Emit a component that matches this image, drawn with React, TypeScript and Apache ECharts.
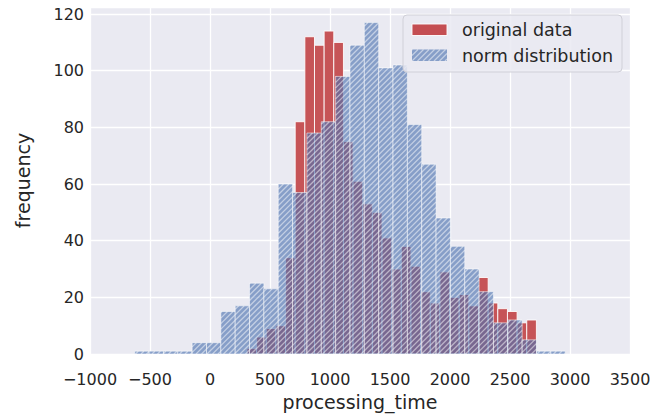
import React, { useEffect, useRef } from "react";
import * as echarts from "echarts";

// Histogram of the original data (30 equal bins over the range below)
const RED_RANGE = [308, 2720];
const RED_COUNTS = [2, 6, 9, 10, 34, 82, 112, 109, 114, 110, 75, 61, 53, 50, 41, 30, 38, 31, 22, 18, 29, 20, 21, 17, 27, 18, 16, 15, 11, 12];

// Histogram of the fitted normal sample (30 equal bins over the range below)
const BLUE_RANGE = [-627, 2960];
const BLUE_COUNTS = [1, 1, 1, 1, 4, 4, 15, 17, 25, 23, 60, 57, 78, 82, 98, 109, 117, 101, 102, 81, 67, 48, 38, 30, 22, 11, 12, 5, 1, 1];

const SERIES_NAMES = ["original data", "norm distribution"];
const X_TITLE = "processing_time";
const Y_TITLE = "frequency";

const FONT = "DejaVu Sans";
const RED = "#C44E52";
const BLUE = "#4C72B0";
const BG = "#EAEAF2";
const TEXT = "#262626";

function toBins(range: number[], counts: number[]) {
  const w = (range[1] - range[0]) / counts.length;
  return counts.map((c, i) => [range[0] + i * w, range[0] + (i + 1) * w, c]);
}

function hatchLines(x0: number, y0: number, x1: number, y1: number, step: number, style: any, z?: number) {
  const out: any[] = [];
  const cStart = Math.ceil((x0 + y0) / step) * step;
  for (let c = cStart; c <= x1 + y1; c += step) {
    const xa = Math.max(x0, c - y1);
    const xb = Math.min(x1, c - y0);
    if (xb - xa > 0.2) {
      const el: any = {
        type: "line",
        shape: { x1: xa, y1: c - xa, x2: xb, y2: c - xb },
        style,
        silent: true,
      };
      if (z !== undefined) el.z = z;
      out.push(el);
    }
  }
  return out;
}

const HATCH_STYLE = { stroke: "rgba(255,255,255,0.5)", lineWidth: 1.3 };
const HATCH_STEP = 5.5;

export default function App() {
  const ref = useRef<HTMLDivElement>(null);
  useEffect(() => {
    if (!ref.current) return;
    const chart = echarts.init(ref.current, undefined, { renderer: "svg" });

    const redRender = (params: any, api: any) => {
      const p0 = api.coord([api.value(0), api.value(2)]);
      const p1 = api.coord([api.value(1), 0]);
      return {
        type: "rect",
        shape: { x: p0[0], y: p0[1], width: p1[0] - p0[0], height: p1[1] - p0[1] },
        style: { fill: RED, opacity: 0.97, stroke: "#ffffff", lineWidth: 0.9 },
      };
    };
    const blueRender = (params: any, api: any) => {
      const p0 = api.coord([api.value(0), api.value(2)]);
      const p1 = api.coord([api.value(1), 0]);
      const x0 = p0[0], y0 = p0[1], x1 = p1[0], y1 = p1[1];
      return {
        type: "group",
        children: [
          {
            type: "rect",
            shape: { x: x0, y: y0, width: x1 - x0, height: y1 - y0 },
            style: { fill: BLUE, opacity: 0.64 },
          },
          ...hatchLines(x0, y0, x1, y1, HATCH_STEP, HATCH_STYLE),
          {
            type: "rect",
            shape: { x: x0, y: y0, width: x1 - x0, height: y1 - y0 },
            style: { fill: "none", stroke: "rgba(255,255,255,0.6)", lineWidth: 0.9 },
          },
        ],
      };
    };

    // legend graphic
    const lx = 403, ly = 15, lw = 219, lh = 57;
    const p2 = { x0: 412, y0: 49.5, x1: 447, y1: 61 };
    const legendGraphic: any[] = [
      {
        type: "rect",
        shape: { x: lx, y: ly, width: lw, height: lh, r: 4 },
        style: { fill: "rgba(234,234,242,0.85)", stroke: "#d0d0d8", lineWidth: 1 },
        z: 100,
      },
      {
        type: "rect",
        shape: { x: 412, y: 24, width: 35, height: 11.5 },
        style: { fill: RED, stroke: "#ffffff", lineWidth: 0.9 },
        z: 102,
      },
      {
        type: "rect",
        shape: { x: p2.x0, y: p2.y0, width: p2.x1 - p2.x0, height: p2.y1 - p2.y0 },
        style: { fill: BLUE, opacity: 0.64 },
        z: 102,
      },
      ...hatchLines(p2.x0, p2.y0, p2.x1, p2.y1, HATCH_STEP, HATCH_STYLE, 103),
      {
        type: "text",
        x: 462,
        y: 30,
        z: 102,
        style: { text: SERIES_NAMES[0], fill: TEXT, font: `17.5px "${FONT}"`, verticalAlign: "middle", align: "left" },
      },
      {
        type: "text",
        x: 462,
        y: 55.5,
        z: 102,
        style: { text: SERIES_NAMES[1], fill: TEXT, font: `17.5px "${FONT}"`, verticalAlign: "middle", align: "left" },
      },
    ];

    chart.setOption({
      animation: false,
      backgroundColor: "#ffffff",
      textStyle: { fontFamily: FONT },
      grid: { left: 90, top: 7, width: 540, height: 350, backgroundColor: BG, show: true, borderWidth: 0 },
      xAxis: {
        type: "value",
        min: -1000,
        max: 3500,
        interval: 500,
        name: X_TITLE,
        nameLocation: "middle",
        nameGap: 38,
        nameTextStyle: { fontSize: 19, color: TEXT, fontFamily: FONT },
        axisLine: { show: false },
        axisTick: { show: false },
        axisLabel: {
          fontSize: 16,
          color: TEXT,
          fontFamily: FONT,
          margin: 17,
          formatter: (v: number) => (v < 0 ? "\u2212" + Math.abs(v) : String(v)),
        },
        splitLine: { show: true, lineStyle: { color: "#ffffff", width: 1.3 } },
      },
      yAxis: {
        type: "value",
        min: 0,
        max: 122.5,
        interval: 20,
        name: Y_TITLE,
        nameLocation: "middle",
        nameGap: 58,
        nameRotate: 90,
        nameTextStyle: { fontSize: 19, color: TEXT, fontFamily: FONT },
        axisLine: { show: false },
        axisTick: { show: false },
        axisLabel: {
          fontSize: 16,
          color: TEXT,
          fontFamily: FONT,
          margin: 6,
          formatter: (v: number) => (v % 20 === 0 ? String(v) : ""),
        },
        splitLine: { show: true, lineStyle: { color: "#ffffff", width: 1.3 } },
      },
      series: [
        {
          name: SERIES_NAMES[0],
          type: "custom",
          renderItem: redRender,
          data: toBins(RED_RANGE, RED_COUNTS),
          encode: { x: [0, 1], y: 2 },
          clip: true,
          z: 2,
        },
        {
          name: SERIES_NAMES[1],
          type: "custom",
          renderItem: blueRender,
          data: toBins(BLUE_RANGE, BLUE_COUNTS),
          encode: { x: [0, 1], y: 2 },
          clip: true,
          z: 3,
        },
      ],
      graphic: legendGraphic,
    });
    return () => chart.dispose();
  }, []);
  return <div ref={ref} style={{ position: "fixed", left: 0, top: 0, width: 668, height: 416 }} />;
}
